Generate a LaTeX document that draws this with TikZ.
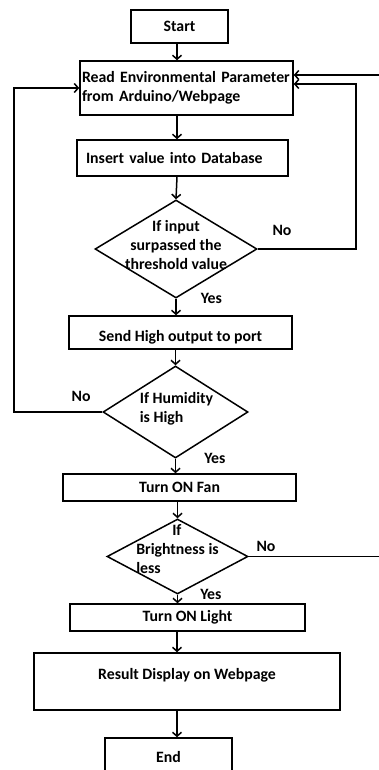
\documentclass[tikz,border=0pt]{standalone}
\usepackage{fontspec}
\setmainfont{Carlito}
\usetikzlibrary{shapes.geometric,arrows.meta}

\begin{document}
\begin{tikzpicture}[
    x=1pt, y=-1pt,
    font=\bfseries\fontsize{15.8}{19}\selectfont,
    box/.style={rectangle, draw, line width=1.5pt, inner sep=0pt},
    decision/.style={diamond, draw, line width=1.5pt, inner sep=0pt},
    lbl/.style={inner sep=0pt},
    arrow/.style={line width=1.5pt, -{Straight Barb[length=4pt,width=9pt]}}
]
    \useasboundingbox (0,0) rectangle (378,770);
    \coordinate (spine) at (177,0);
    \coordinate (leftrail) at (14,0);
    \coordinate (rightrail) at (356,0);
    \coordinate (offpage) at (400,0);

    \node[box, minimum width=97pt, minimum height=33pt] (start) at (179.5,26.5) {Start};
    \node[box, minimum width=213pt, minimum height=54pt, text width=209pt, align=left] (read) at (186.5,88) {Read Environmental Parameter\\from Arduino/Webpage};
    \node[box, minimum width=211pt, minimum height=36pt, text width=193pt, align=left] (insert) at (182.5,158) {Insert value into Database};
    \node[decision, minimum width=162pt, minimum height=98pt] (dec1) at (176,249) {};
    \node[align=center] (dec1text) at (176,245) {If input\\surpassed the\\threshold value};
    \node[box, minimum width=223pt, minimum height=33pt, text height=20pt] (send) at (180.5,332.5) {Send High output to port};
    \node[decision, minimum width=145pt, minimum height=92pt] (dec2) at (175.5,412) {};
    \node[align=left] (dec2text) at (176.5,408.5) {If Humidity\\is High};
    \node[box, minimum width=233pt, minimum height=27pt] (fan) at (179.5,487.5) {Turn ON Fan};
    \node[decision, minimum width=141pt, minimum height=75pt] (dec3) at (177.5,556.5) {};
    \node[align=left] (dec3text) at (177.5,549) {\hspace*{36pt}If\\Brightness is\\less};
    \node[box, minimum width=235pt, minimum height=27pt] (light) at (187.5,617.5) {Turn ON Light};
    \node[box, minimum width=306pt, minimum height=57pt, text depth=15pt] (result) at (187,681.5) {Result Display on Webpage};
    \node[box, minimum width=127pt, minimum height=38pt] (finish) at (168.5,757) {End};

    % main flow down the middle
    \draw[arrow] (start.south -| spine) -- (read.north -| spine);
    \draw[arrow] (read.south -| spine) -- (insert.north -| spine);
    \draw[arrow] (insert.south -| spine) -- (dec1.north);
    \draw[arrow] (dec1.south) -- node[lbl, pos=0, right=24pt] {Yes} (dec1.south |- send.north);
    \draw[arrow] (send.south -| dec2.north) -- (dec2.north);
    \draw[arrow] (dec2.south) -- node[lbl, pos=0, right=28pt] {Yes} (dec2.south |- fan.north);
    \draw[arrow] (fan.south -| dec3.north) -- (dec3.north);
    \draw[arrow] (dec3.south) -- node[lbl, pos=0, right=22pt] {Yes} (dec3.south |- light.north);
    \draw[arrow] (light.south -| spine) -- (result.north -| spine);
    \draw[arrow] (result.south -| spine) -- (finish.north -| spine);

    % "No" branches back to the reading step
    \draw[arrow] (dec1.east) -- node[lbl, pos=0, anchor=south west, xshift=14pt, yshift=13pt] {No} (dec1.east -| rightrail) |- ([yshift=4pt]read.east);
    \draw[arrow] (dec2.west) -- node[lbl, pos=0, anchor=south east, xshift=-11pt, yshift=10pt] {No} (dec2.west -| leftrail) |- (read.west);
    \draw[arrow] (dec3.east) -- node[lbl, pos=0, anchor=south west, xshift=7pt, yshift=4.5pt] {No} (dec3.east -| offpage) |- ([yshift=13pt]read.east);
\end{tikzpicture}
\end{document}
